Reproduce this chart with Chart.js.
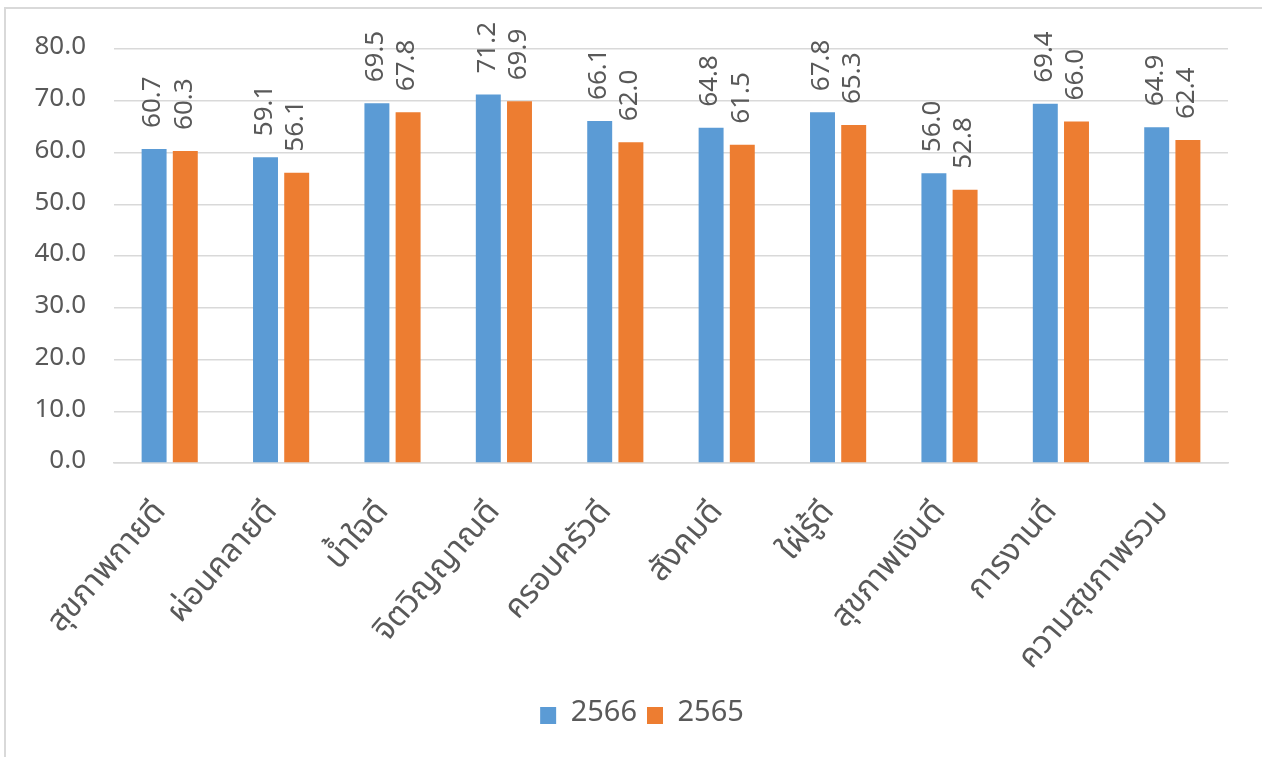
<!DOCTYPE html>
<html>
<head>
<meta charset="utf-8">
<script src="https://cdn.jsdelivr.net/npm/chart.js@4"></script>
<style>
  html, body { margin: 0; padding: 0; background: #fff; }
  #wrap { position: relative; width: 1262px; height: 757px; overflow: hidden; }
  #frame { position: absolute; left: 4px; top: 7px; width: 1300px; height: 800px;
           border-top: 2px solid #d9d9d9; border-left: 2px solid #d9d9d9; }
  #chart { position: absolute; left: 0; top: 0; }
</style>
</head>
<body>
<div id="wrap">
  <div id="frame"></div>
  <canvas id="chart" width="1262" height="757"></canvas>
</div>
<script>
const categories = ['สุขภาพกายดี', 'ผ่อนคลายดี', 'น้ำใจดี', 'จิตวิญญาณดี', 'ครอบครัวดี',
  'สังคมดี', 'ใฝ่รู้ดี', 'สุขภาพเงินดี', 'การงานดี', 'ความสุขภาพรวม'];
const values2566 = [60.7, 59.1, 69.5, 71.2, 66.1, 64.8, 67.8, 56.0, 69.4, 64.9];
const values2565 = [60.3, 56.1, 67.8, 69.9, 62.0, 61.5, 65.3, 52.8, 66.0, 62.4];
const seriesNames = ['2566', '2565'];
const yTicks = [0, 10, 20, 30, 40, 50, 60, 70, 80];

const textColor = '#595959';
const font = "'Noto Sans Thai', 'Liberation Sans', Arial, sans-serif";

// value labels drawn vertically above each bar
const barLabels = {
  id: 'barLabels',
  afterDatasetsDraw(chart) {
    const ctx = chart.ctx;
    ctx.save();
    ctx.fillStyle = textColor;
    ctx.font = '26px ' + font;
    ctx.textAlign = 'left';
    ctx.textBaseline = 'middle';
    chart.data.datasets.forEach((ds, i) => {
      chart.getDatasetMeta(i).data.forEach((bar, j) => {
        ctx.save();
        ctx.translate(bar.x + 1, bar.y - 21);
        ctx.rotate(-Math.PI / 2);
        ctx.fillText(ds.data[j].toFixed(1), 0, 0);
        ctx.restore();
      });
    });
    ctx.restore();
  }
};

// legend sits centred under the plot area, not the whole canvas
const legendShift = {
  id: 'legendShift',
  afterLayout(chart) {
    chart.legend.left += 18;
    chart.legend.right += 18;
  }
};

new Chart(document.getElementById('chart'), {
  type: 'bar',
  data: {
    labels: categories,
    datasets: [
      { label: seriesNames[0], data: values2566, backgroundColor: '#5b9bd5',
        categoryPercentage: 0.56, barPercentage: 0.8 },
      { label: seriesNames[1], data: values2565, backgroundColor: '#ed7d31',
        categoryPercentage: 0.56, barPercentage: 0.8 }
    ]
  },
  options: {
    responsive: false,
    animation: false,
    devicePixelRatio: 1,
    layout: { padding: { left: 20, right: 34, top: 49, bottom: 17 } },
    plugins: {
      tooltip: { enabled: false },
      legend: {
        position: 'bottom',
        labels: {
          color: textColor,
          font: { family: font, size: 29 },
          boxWidth: 16, boxHeight: 17, padding: 10
        }
      }
    },
    scales: {
      y: {
        min: 0, max: 80,
        afterBuildTicks: s => { s.ticks = yTicks.map(v => ({ value: v })); },
        afterFit: s => { s.width = 94; },
        border: { display: false },
        grid: { color: '#d9d9d9', lineWidth: 1.5, drawTicks: false },
        ticks: {
          color: textColor, padding: 28,
          font: { family: font, size: 26 },
          callback: v => Number(v).toFixed(1)
        }
      },
      x: {
        afterFit: s => { s.height = 228; },
        border: { color: '#d9d9d9', width: 1.5 },
        grid: { display: false },
        ticks: {
          color: textColor, maxRotation: 49, minRotation: 49, padding: 24,
          labelOffset: -8,
          font: { family: font, size: 32 }
        }
      }
    }
  },
  plugins: [barLabels, legendShift]
});
</script>
</body>
</html>
